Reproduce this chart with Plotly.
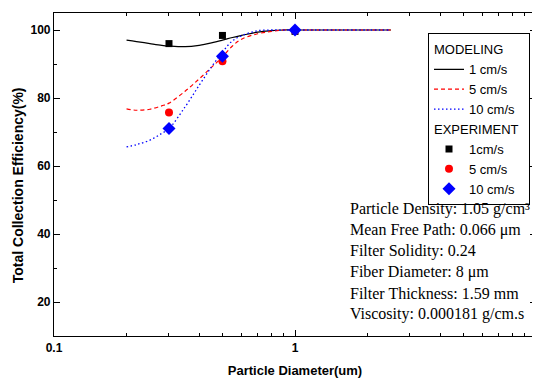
import plotly.graph_objects as go

# Model curves (particle diameter in um vs total collection efficiency %)
x_model = [0.2, 0.22, 0.25, 0.28, 0.3, 0.35, 0.4, 0.45, 0.5, 0.55, 0.6, 0.7, 0.8, 0.9, 1.0, 1.2, 1.5, 2.0, 2.5]
model_1 = [97.0, 96.6, 96.0, 95.5, 95.3, 95.1, 95.5, 96.2, 97.0, 97.8, 98.4, 99.4, 99.8, 100.0, 100.0, 100.0, 100.0, 100.0, 100.0]
model_5 = [76.8, 76.4, 76.7, 77.7, 78.5, 82.0, 85.6, 89.0, 92.1, 95.3, 97.3, 98.9, 99.6, 100.0, 100.0, 100.0, 100.0, 100.0, 100.0]
model_10 = [65.6, 66.3, 67.6, 69.6, 71.0, 77.4, 83.7, 89.1, 93.5, 96.8, 98.3, 99.8, 100.0, 100.0, 100.0, 100.0, 100.0, 100.0, 100.0]

# Experimental points
x_exp = [0.3, 0.5, 1.0]
exp_1 = [96.0, 98.4, 99.6]
exp_5 = [75.7, 90.8, 99.8]
exp_10 = [71.0, 92.3, 100.0]

params = [
    "Particle Density: 1.05 g/cm³",
    "Mean Free Path: 0.066 μm",
    "Filter Solidity: 0.24",
    "Fiber Diameter: 8 μm",
    "Filter Thickness: 1.59 mm",
    "Viscosity: 0.000181 g/cm.s",
]

fig = go.Figure()
fig.add_trace(go.Scatter(x=x_model, y=model_1, mode="lines", name="1 cm/s",
                         line=dict(color="black", width=1.2, shape="spline"),
                         legendgroup="model", legendgrouptitle_text="MODELING"))
fig.add_trace(go.Scatter(x=x_model, y=model_5, mode="lines", name="5 cm/s",
                         line=dict(color="red", width=1.2, dash="4px,3px", shape="spline"),
                         legendgroup="model"))
fig.add_trace(go.Scatter(x=x_model, y=model_10, mode="lines", name="10 cm/s",
                         line=dict(color="blue", width=1.3, dash="1.5px,2.5px", shape="spline"),
                         legendgroup="model"))
fig.add_trace(go.Scatter(x=x_exp, y=exp_1, mode="markers", name="1cm/s",
                         marker=dict(color="black", symbol="square", size=7),
                         legendgroup="exp", legendgrouptitle_text="EXPERIMENT"))
fig.add_trace(go.Scatter(x=x_exp, y=exp_5, mode="markers", name="5 cm/s",
                         marker=dict(color="red", symbol="circle", size=8),
                         legendgroup="exp"))
fig.add_trace(go.Scatter(x=x_exp, y=exp_10, mode="markers", name="10 cm/s",
                         marker=dict(color="blue", symbol="diamond", size=10),
                         legendgroup="exp"))

# page body has an 8px margin; work in page pixels and convert
OFF = 8
W, H = 540 - OFF, 379 - OFF
pl, pr, pt, pb = 54, 536, 12.5, 336.0
pw, ph = pr - pl, pb - pt

line_y = [209, 230, 251, 272, 293, 314]
for t, yp in zip(params, line_y):
    fig.add_annotation(text=t, xref="paper", yref="paper", x=(348 - pl) / pw,
                       y=(pb - yp) / ph, xanchor="left", yanchor="middle",
                       showarrow=False,
                       font=dict(family="Liberation Serif, Times New Roman, serif", size=16, color="black"))

# y-axis title placed as annotation (centred slightly below the plot middle, as in the reference)
fig.add_annotation(text="Total Collection Efficiency(%)", textangle=-90, showarrow=False,
                   xref="paper", yref="paper", x=(18 - pl) / pw, y=(pb - 185) / ph,
                   xanchor="center", yanchor="middle",
                   font=dict(family="Liberation Sans, Arial", size=14, color="black", weight="bold"))

axis_common = dict(showline=True, linecolor="black", linewidth=1.2, mirror="allticks",
                   ticks="inside", ticklen=6, tickwidth=1, tickcolor="black",
                   showgrid=False, zeroline=False,
                   tickfont=dict(family="Liberation Sans, Arial", size=12, color="black", weight="bold"))

fig.update_layout(
    width=W, height=H,
    margin=dict(l=pl - OFF, r=540 - pr, t=pt - OFF, b=379 - pb),
    plot_bgcolor="white", paper_bgcolor="white",
    font=dict(family="Liberation Sans, Arial", color="black"),
    xaxis=dict(type="log", range=[-1, 1], tickvals=[0.1, 1, 10], ticktext=["0.1", "1", "10"],
               minor=dict(ticks="inside", ticklen=3, tickcolor="black",
                          tickvals=[0.2, 0.3, 0.4, 0.5, 0.6, 0.7, 0.8, 0.9, 2, 3, 4, 5, 6, 7, 8, 9]),
               title=dict(text="Particle Diameter(um)", standoff=12,
                          font=dict(size=13, weight="bold", family="Liberation Sans, Arial")),
               **axis_common),
    yaxis=dict(range=[10, 105], tickvals=[20, 40, 60, 80, 100],
               minor=dict(ticks="inside", ticklen=3, tickcolor="black", tickvals=[30, 50, 70, 90]),
               **axis_common),
    showlegend=True,
    legend=dict(x=(428 - pl) / pw, y=(pb - 33) / ph, xanchor="left", yanchor="top",
                bordercolor="black", borderwidth=1, bgcolor="white",
                font=dict(family="Liberation Sans, Arial", size=13, color="black"),
                grouptitlefont=dict(family="Liberation Sans, Arial", size=13, color="black"),
                traceorder="grouped", tracegroupgap=0, itemwidth=30),
)

fig.write_html("out.html")
